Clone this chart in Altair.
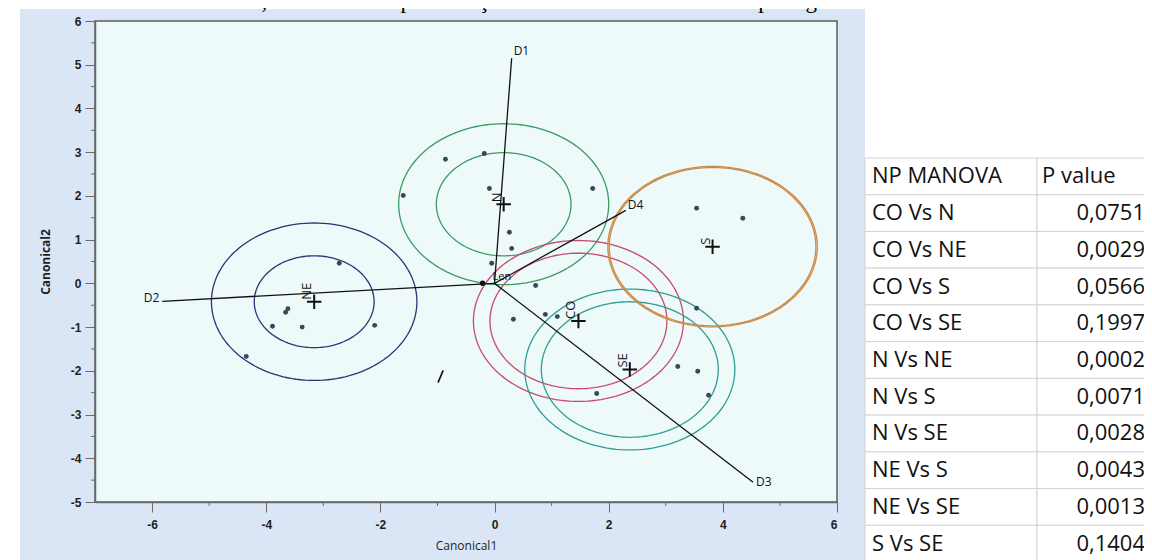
import altair as alt
import numpy as np
import pandas as pd

# ---------------- data ----------------
obs_x = [-2.72, -3.62, -3.66, -3.89, -3.37, -2.10, -4.35,
         -0.86, -0.18, -0.09, 1.72, -1.60, 0.26, 0.30, -0.05,
         3.54, 4.35,
         0.33, 0.89, 1.10, 0.72, 3.54, 3.21, 3.56, 3.75, 1.79]
obs_y = [0.46, -0.58, -0.66, -0.98, -1.00, -0.96, -1.67,
         2.84, 2.97, 2.17, 2.17, 2.01, 1.17, 0.80, 0.46,
         1.72, 1.49,
         -0.82, -0.71, -0.76, -0.05, -0.57, -1.90, -2.01, -2.56, -2.52]

groups = ["NE", "N", "CO", "SE", "S"]
group_x = [-3.16, 0.16, 1.47, 2.37, 3.82]
group_y = [-0.42, 1.81, -0.86, -1.97, 0.84]
outer_radius = [1.80, 1.84, 1.84, 1.84, 1.835]
inner_radius = [1.05, 1.18, 1.55, 1.55, 1.81]
group_colors = ["#2d3373", "#3c9a63", "#c64b6e", "#2f9d96", "#c98a4a"]

rays = ["D1", "D2", "D3", "D4"]
ray_x = [0.30, -5.82, 4.53, 2.30]
ray_y = [5.15, -0.41, -4.55, 1.67]

origin_x = [-0.21]
origin_y = [0.0]

small_arrow_x = [-0.99, -0.90]
small_arrow_y = [-2.27, -1.99]

x_major = [-6, -4, -2, 0, 2, 4, 6]
x_minor = [-5, -3, -1, 1, 3, 5]
y_major = [-5, -4, -3, -2, -1, 0, 1, 2, 3, 4, 5, 6]
y_minor = [-4.5, -3.5, -2.5, -1.5, -0.5, 0.5, 1.5, 2.5, 3.5, 4.5, 5.5]

comparisons = ["NP MANOVA", "CO Vs N", "CO Vs NE", "CO Vs S", "CO Vs SE",
               "N Vs NE", "N Vs S", "N Vs SE", "NE Vs S", "NE Vs SE", "S Vs SE"]
p_values = ["P value", "0,0751", "0,0029", "0,0566", "0,1997", "0,0002",
            "0,0071", "0,0028", "0,0043", "0,0013", "0,1404"]

caption = "dimensão 4, relacionada à preservação dos recursos naturais e da paisagem rural."

# ---------------- tables ----------------
W, H = 742, 481
theta = np.linspace(0, 2 * np.pi, 145)
rings = []
for g, cx, cy, ro, ri in zip(groups, group_x, group_y, outer_radius, inner_radius):
    for k, r in (("outer", ro), ("inner", ri)):
        for i, t in enumerate(theta):
            rings.append({"grp": g, "ring": g + k, "i": i,
                          "x": cx + r * np.cos(t), "y": cy + r * np.sin(t)})
ring_df = pd.DataFrame(rings)
obs_df = pd.DataFrame({"x": obs_x, "y": obs_y})
grp_df = pd.DataFrame({"grp": groups, "x": group_x, "y": group_y})
ray_df = pd.DataFrame({"ray": rays, "ox": 0.0, "oy": 0.0, "x": ray_x, "y": ray_y})
origin_df = pd.DataFrame({"x": origin_x, "y": origin_y, "lab": ["Len"]})
arrow_df = pd.DataFrame({"x": [small_arrow_x[0]], "y": [small_arrow_y[0]],
                         "x2": [small_arrow_x[1]], "y2": [small_arrow_y[1]]})
xminor_df = pd.DataFrame({"x": x_minor})
yminor_df = pd.DataFrame({"y": y_minor})
table_df = pd.DataFrame({"label": comparisons, "val": p_values,
                         "header": [True] + [False] * (len(comparisons) - 1)})
one = pd.DataFrame({"a": [0]})

# ---------------- encodings ----------------
AX_FONT = "Liberation Sans"
xscale = alt.Scale(domain=[-7, 6], nice=False, zero=False)
yscale = alt.Scale(domain=[-5, 6], nice=False, zero=False)
xaxis = alt.Axis(values=x_major, title="Canonical1", grid=False, tickSize=10,
                 tickColor="#6a6a6a", domainColor="#6a6a6a", domainWidth=1.5,
                 labelFont=AX_FONT, labelFontSize=12, labelFontWeight="bold",
                 labelColor="#1e1e1e", labelPadding=7,
                 labelExpr="replace(datum.label, '−', '-')",
                 titleFont="Open Sans", titleFontSize=12, titleFontWeight="normal",
                 titleColor="#1e1e1e", titlePadding=10, zindex=1)
yaxis = alt.Axis(values=y_major, title="Canonical2", grid=False, tickSize=10,
                 tickColor="#6a6a6a", domainColor="#6a6a6a", domainWidth=1.5,
                 labelFont=AX_FONT, labelFontSize=12, labelFontWeight="bold",
                 labelColor="#1e1e1e", labelPadding=4,
                 labelExpr="replace(datum.label, '−', '-')",
                 titleFont="Open Sans", titleFontSize=12, titleFontWeight="bold",
                 titleColor="#1e1e1e", titlePadding=18, zindex=1)


def X(f="x"):
    return alt.X(f + ":Q", scale=xscale, axis=xaxis)


def Y(f="y"):
    return alt.Y(f + ":Q", scale=yscale, axis=yaxis)


PANEL = "#dae6f6"
PLOT = "#eef9fa"

panel = alt.Chart(one).mark_rect(fill=PANEL).encode(
    x=alt.value(-75), x2=alt.value(770), y=alt.value(-12), y2=alt.value(560))
plotbg = alt.Chart(one).mark_rect(fill=PLOT, stroke="#5c5c5c", strokeWidth=1.5).encode(
    x=alt.value(0), x2=alt.value(W), y=alt.value(0), y2=alt.value(H))

ellipses = alt.Chart(ring_df).mark_line(strokeWidth=1.3).encode(
    x=X(), y=Y(), detail="ring:N", order="i:Q",
    color=alt.Color("grp:N", scale=alt.Scale(domain=groups, range=group_colors), legend=None),
    strokeWidth=alt.condition(alt.datum.grp == "S", alt.value(2.2), alt.value(1.3)))

ray_lines = alt.Chart(ray_df).mark_rule(color="#111111", strokeWidth=1.3).encode(
    x=X("ox"), y=Y("oy"), x2="x:Q", y2="y:Q")

ray_label_style = {
    "D1": dict(align="left", dx=2, dy=-7),
    "D2": dict(align="right", dx=-3, dy=-3),
    "D3": dict(align="left", dx=3, dy=0),
    "D4": dict(align="left", dx=2, dy=-5),
}
ray_labels = [
    alt.Chart(ray_df).transform_filter(alt.datum.ray == r).mark_text(
        baseline="middle", font="Open Sans", fontSize=12, color="#111111", **ray_label_style[r]
    ).encode(x=X(), y=Y(), text="ray:N")
    for r in rays
]

points = alt.Chart(obs_df).mark_circle(size=24, color="#3b4757", opacity=1).encode(x=X(), y=Y())

origin_dot = alt.Chart(origin_df).mark_circle(size=30, color="#111111", opacity=1).encode(x=X(), y=Y())
origin_lab = alt.Chart(origin_df).mark_text(
    align="left", baseline="middle", dx=10, dy=-6, font="Open Sans", fontSize=11, color="#111111"
).encode(x=X(), y=Y(), text="lab:N")

arrow = alt.Chart(arrow_df).mark_rule(color="#111111", strokeWidth=1.6).encode(
    x=X(), y=Y(), x2="x2:Q", y2="y2:Q")

plus = alt.Chart(grp_df).mark_point(
    shape="M-1,0L1,0M0,-1L0,1", size=210, strokeWidth=2, color="#111111", filled=False, opacity=1
).encode(x=X(), y=Y())

grp_labels = alt.Chart(grp_df).mark_text(
    angle=270, align="left", baseline="bottom", dx=2, font="Open Sans", fontSize=13, color="#111111"
).encode(x=X(), y=Y(), text="grp:N")

xminor = alt.Chart(xminor_df).mark_rule(color="#6a6a6a").encode(
    x=X(), y=alt.value(H), y2=alt.value(H + 4))
yminor = alt.Chart(yminor_df).mark_rule(color="#6a6a6a").encode(
    y=Y(), x=alt.value(0), x2=alt.value(-4))

caption_text = alt.Chart(one).mark_text(
    align="right", baseline="alphabetic", font="Liberation Serif", fontSize=23, color="#000000"
).encode(x=alt.value(805), y=alt.value(-13), text=alt.value(caption))

plot_layer = alt.layer(panel, plotbg, caption_text, ellipses, ray_lines, *ray_labels, arrow,
                       points, origin_dot, origin_lab, plus, grp_labels, xminor, yminor)

# ---------------- table ----------------
TY = alt.Y("label:N", sort=None, axis=None,
           scale=alt.Scale(range=[137, 541], paddingInner=0, paddingOuter=0))
cell1 = alt.Chart(table_df).mark_rect(fill="white", stroke="#d3d3d3", strokeWidth=1).encode(
    y=TY, x=alt.value(770), x2=alt.value(942))
cell2 = alt.Chart(table_df).mark_rect(fill="white", stroke="#d3d3d3", strokeWidth=1).encode(
    y=TY, x=alt.value(942), x2=alt.value(1080))
TFONT = dict(font="Open Sans", fontSize=22, color="#111111", baseline="middle")
col1 = alt.Chart(table_df).mark_text(align="left", **TFONT).encode(
    y=TY, x=alt.value(777), text="label:N")
col2h = alt.Chart(table_df).transform_filter(alt.datum.header).mark_text(align="left", **TFONT).encode(
    y=TY, x=alt.value(947), text="val:N")
col2 = alt.Chart(table_df).transform_filter(~alt.datum.header).mark_text(align="right", **TFONT).encode(
    y=TY, x=alt.value(1050), text="val:N")
table_layer = alt.layer(cell1, cell2, col1, col2h, col2)

chart = alt.layer(plot_layer, table_layer).resolve_scale(y="independent").properties(
    width=W, height=H,
    autosize=alt.AutoSizeParams(type="none"),
    padding={"left": 87, "top": 13, "right": 307, "bottom": 58},
).configure(background="white").configure_view(stroke=None)

chart.save("out.html", embed_options={"renderer": "svg", "actions": False})
